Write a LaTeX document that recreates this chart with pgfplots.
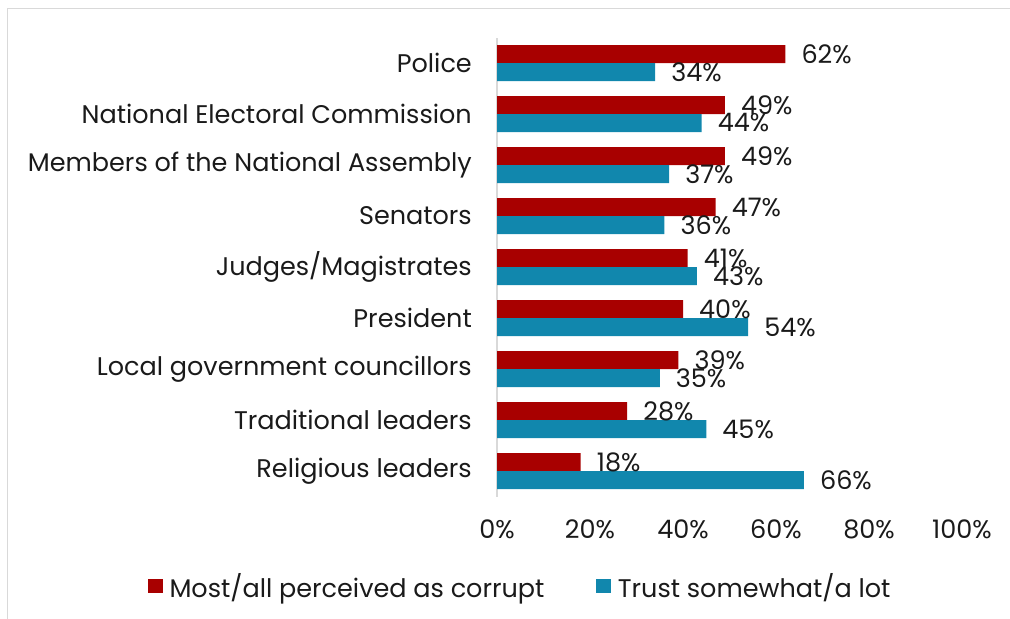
\documentclass[border=0pt]{standalone}
\usepackage{fontspec}
\setmainfont{Poppins}
\usepackage{pgfplots}
\pgfplotsset{compat=1.18}
\definecolor{cred}{HTML}{A80000}
\definecolor{cblue}{HTML}{1187AD}
\definecolor{ctext}{HTML}{1A1A1A}
\definecolor{cgrid}{HTML}{D9D9D9}
\newcommand{\chartfont}{\fontsize{25.5bp}{30bp}\selectfont}
\begin{document}
\begin{tikzpicture}
\path[use as bounding box] (0bp,0bp) rectangle (1010bp,-619bp);
\draw[color=cgrid, line width=1.5bp] (7.5bp,-700bp) -- (7.5bp,-8.5bp) -- (1100bp,-8.5bp);
\begin{axis}[
  at={(497bp,-496.5bp)}, anchor=south west,
  width=465bp, height=459bp, scale only axis,
  xmin=0, xmax=100, ymin=-0.5, ymax=8.5,
  xbar, bar width=18bp,
  axis lines*=left,
  x axis line style={draw=none},
  y axis line style={draw=cgrid, line width=1.5bp},
  xtick={0,20,40,60,80,100},
  xticklabels={0\%,20\%,40\%,60\%,80\%,100\%},
  ytick={0,1,2,3,4,5,6,7,8},
  yticklabels={Religious leaders,Traditional leaders,Local government councillors,President,Judges/Magistrates,Senators,Members of the National Assembly,National Electoral Commission,Police},
  major tick length=0pt,
  /pgf/number format/assume math mode=true,
  tick label style={font=\chartfont, text=ctext},
  xticklabel style={anchor=center, yshift=-33bp},
  yticklabel style={anchor=east, inner sep=0pt, xshift=-25bp},
  nodes near coords={\pgfmathprintnumber{\pgfplotspointmeta}\%},
  nodes near coords style={font=\chartfont, text=ctext, anchor=west, inner sep=0pt, xshift=16bp},
  point meta=explicit symbolic,
  legend style={at={(0.05,-0.195)}, anchor=center, draw=none, fill=none,
    font=\chartfont, text=ctext, legend columns=2,
    /tikz/every odd column/.append style={column sep=5bp},
    /tikz/every even column/.append style={column sep=50bp}},
  legend image code/.code={\fill[#1] (0bp,-7bp) rectangle (14.5bp,7.5bp);},
  clip=false,
]
\addplot[fill=cred, draw=none, bar shift=9bp] coordinates {
 (62,8) [62] (49,7) [49] (49,6) [49] (47,5) [47] (41,4) [41]
 (40,3) [40] (39,2) [39] (28,1) [28] (18,0) [18]};
\addplot[fill=cblue, draw=none, bar shift=-9bp] coordinates {
 (34,8) [34] (44,7) [44] (37,6) [37] (36,5) [36] (43,4) [43]
 (54,3) [54] (35,2) [35] (45,1) [45] (66,0) [66]};
\legend{Most/all perceived as corrupt, Trust somewhat/a lot}
\end{axis}
\end{tikzpicture}
\end{document}
